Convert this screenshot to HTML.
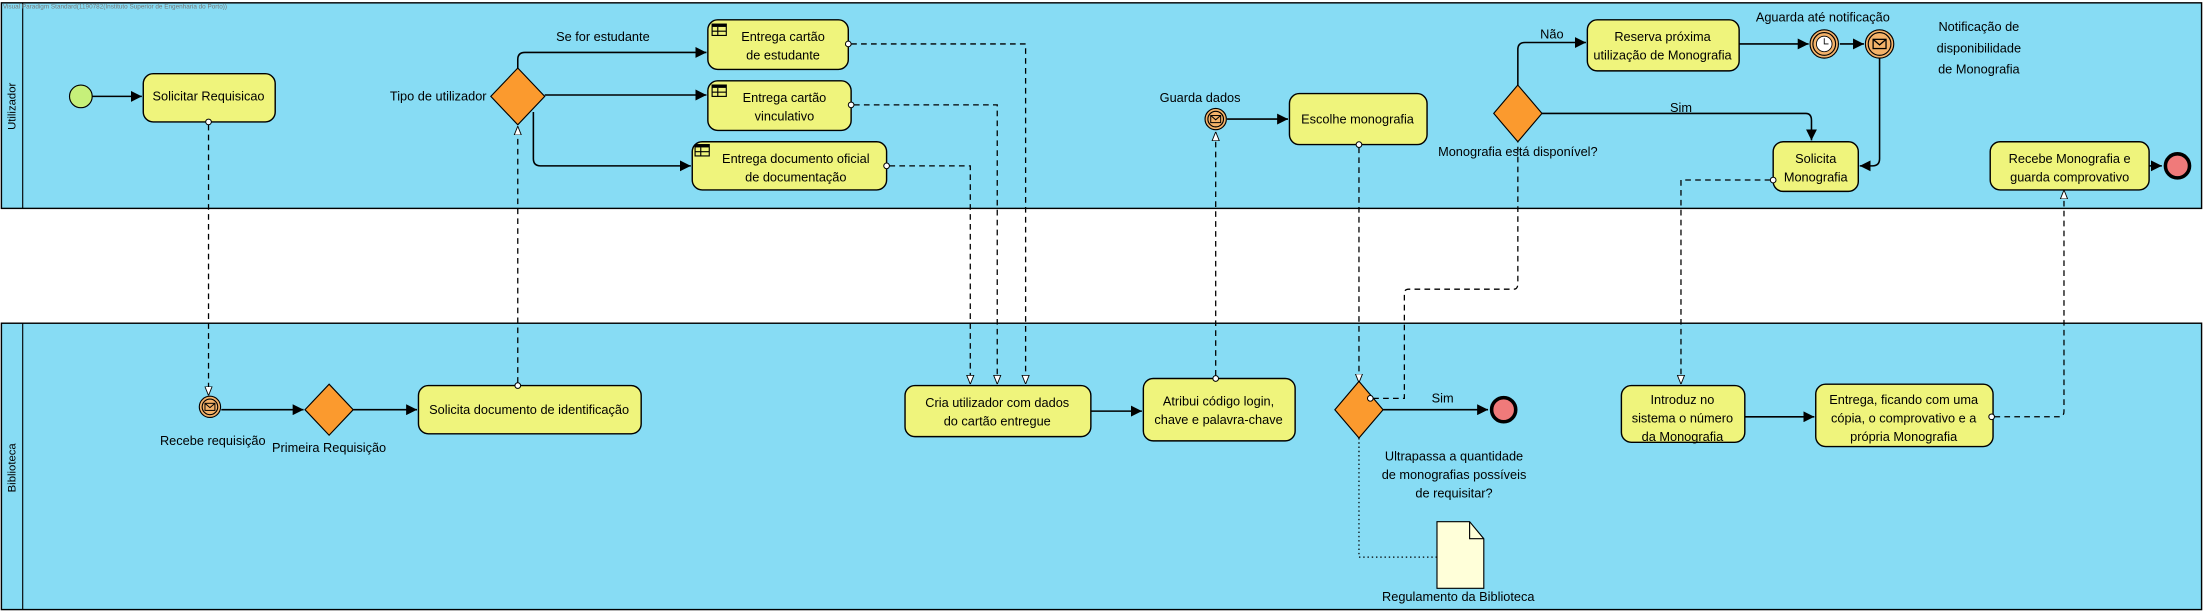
<!DOCTYPE html>
<html><head><meta charset="utf-8"><style>
html,body{margin:0;padding:0;background:#fff;}
svg{display:block;}
text{font-family:"Liberation Sans Narrow","Liberation Sans",sans-serif;font-size:9px;fill:#000;}
</style></head><body>
<svg width="2203" height="611" viewBox="0 0 1553 431" preserveAspectRatio="none" xmlns="http://www.w3.org/2000/svg">
<defs>
<marker id="a" viewBox="0 0 10 10" refX="10" refY="5" markerWidth="7" markerHeight="7" orient="auto"><path d="M0,0L10,5L0,10z" fill="#000"/></marker>
<marker id="o" viewBox="0 0 10 10" refX="10" refY="5" markerWidth="7" markerHeight="7" orient="auto"><path d="M0,1L10,5L0,9z" fill="#fff" stroke="#000" stroke-width="1"/></marker>
<g id="tbl"><rect x="0" y="0" width="10" height="8" fill="none" stroke="#000" stroke-width="0.8"/><rect x="0" y="0" width="10" height="2" fill="#000"/><line x1="0" y1="5" x2="10" y2="5" stroke="#000" stroke-width="0.8"/><line x1="4" y1="2" x2="4" y2="8" stroke="#000" stroke-width="0.8"/></g>
<g id="env"><rect x="-3.5" y="-2.5" width="7" height="5" fill="none" stroke="#000" stroke-width="0.7"/><path d="M-3.5,-2.5L0,0.5L3.5,-2.5" fill="none" stroke="#000" stroke-width="0.7"/></g>
</defs>
<!-- lanes -->
<rect x="1" y="2" width="1551" height="145" fill="#87dcf4" stroke="#000" stroke-width="1"/>
<line x1="16" y1="2" x2="16" y2="147" stroke="#000" stroke-width="0.8"/>
<text transform="translate(11,75) rotate(-90)" text-anchor="middle" style="font-family:'Liberation Sans',sans-serif;font-size:8px">Utilizador</text>
<text x="2" y="6" style="font-size:4.5px;fill:#777">Visual Paradigm Standard(1190782(Instituto Superior de Engenharia do Porto))</text>
<rect x="1" y="228" width="1551" height="202" fill="#87dcf4" stroke="#000" stroke-width="1"/>
<line x1="16" y1="228" x2="16" y2="430" stroke="#000" stroke-width="0.8"/>
<text transform="translate(11,330) rotate(-90)" text-anchor="middle" style="font-family:'Liberation Sans',sans-serif;font-size:8px">Biblioteca</text>

<g fill="none" stroke="#000" stroke-width="1.1">
<!-- sequence flows -->
<line x1="65" y1="68" x2="100" y2="68" marker-end="url(#a)"/>
<path d="M365,48V42Q365,37 370,37H498" marker-end="url(#a)"/>
<line x1="384" y1="67" x2="498" y2="67" marker-end="url(#a)"/>
<path d="M376,79V112Q376,117 381,117H487" marker-end="url(#a)"/>
<line x1="156" y1="289" x2="214" y2="289" marker-end="url(#a)"/>
<line x1="249" y1="289" x2="294" y2="289" marker-end="url(#a)"/>
<line x1="769" y1="290" x2="805" y2="290" marker-end="url(#a)"/>
<line x1="865" y1="84" x2="908" y2="84" marker-end="url(#a)"/>
<line x1="975" y1="289" x2="1049" y2="289" marker-end="url(#a)"/>
<path d="M1070,60V35Q1070,30 1075,30H1118" marker-end="url(#a)"/>
<line x1="1226" y1="31" x2="1275" y2="31" marker-end="url(#a)"/>
<line x1="1297" y1="31" x2="1314" y2="31" marker-end="url(#a)"/>
<path d="M1325,41V112Q1325,117 1320,117H1311" marker-end="url(#a)"/>
<path d="M1087,80H1273Q1277,80 1277,85V99" marker-end="url(#a)"/>
<line x1="1230" y1="294" x2="1279" y2="294" marker-end="url(#a)"/>
<line x1="1515" y1="117" x2="1524" y2="117" marker-end="url(#a)"/>
</g>
<g fill="none" stroke="#000" stroke-width="0.9" stroke-dasharray="4,3">
<line x1="147" y1="88" x2="147" y2="279" marker-end="url(#o)"/>
<line x1="365" y1="270" x2="365" y2="89" marker-end="url(#o)"/>
<path d="M600,31H723V271" marker-end="url(#o)"/>
<path d="M602,74H703V271" marker-end="url(#o)"/>
<path d="M627,117H684V271" marker-end="url(#o)"/>
<line x1="857" y1="265" x2="857" y2="93" marker-end="url(#o)"/>
<line x1="958" y1="104" x2="958" y2="270" marker-end="url(#o)"/>
<path d="M968,281H990V207Q990,204 993,204H1067Q1070,204 1070,200V100"/>
<path d="M1248,127H1185V271" marker-end="url(#o)"/>
<path d="M1406,294H1452Q1455,294 1455,290V134" marker-end="url(#o)"/>
</g>
<path d="M958,309V393H1013" fill="none" stroke="#000" stroke-width="0.9" stroke-dasharray="1,2"/>

<!-- tasks -->
<g fill="#eff47c" stroke="#000" stroke-width="1">
<rect x="101" y="52" width="93" height="34" rx="7"/>
<rect x="499" y="14" width="99" height="35" rx="7"/>
<rect x="499" y="57" width="101" height="35" rx="7"/>
<rect x="488" y="100" width="137" height="34" rx="7"/>
<rect x="295" y="272" width="157" height="34" rx="7"/>
<rect x="638" y="272" width="131" height="36" rx="7"/>
<rect x="806" y="267" width="107" height="44" rx="7"/>
<rect x="909" y="66" width="97" height="36" rx="7"/>
<rect x="1119" y="14" width="107" height="36" rx="7"/>
<rect x="1250" y="100" width="60" height="35" rx="7"/>
<rect x="1403" y="100" width="112" height="34" rx="7"/>
<rect x="1143" y="272" width="87" height="40" rx="7"/>
<rect x="1280" y="271" width="125" height="44" rx="7"/>
</g>
<use href="#tbl" x="502" y="17"/><use href="#tbl" x="502" y="60"/><use href="#tbl" x="490" y="102"/>
<!-- gateways -->
<g fill="#fb9a2e" stroke="#000" stroke-width="0.8">
<path d="M365,48L384,68L365,88L346,68z"/>
<path d="M232,271L249,289L232,307L215,289z"/>
<path d="M958,269L975,289L958,309L941,289z"/>
<path d="M1070,60L1087,80L1070,100L1053,80z"/>
</g>
<!-- events -->
<circle cx="57" cy="68" r="8" fill="#c6f07a" stroke="#000" stroke-width="0.8"/>
<g fill="#f4b36a" stroke="#000" stroke-width="0.8">
<circle cx="148" cy="287" r="7.5"/><circle cx="148" cy="287" r="5.5"/>
<circle cx="857" cy="84" r="7.5"/><circle cx="857" cy="84" r="5.5"/>
<circle cx="1286" cy="31" r="10"/><circle cx="1286" cy="31" r="8"/>
<circle cx="1325" cy="31" r="10"/><circle cx="1325" cy="31" r="8"/>
</g>
<circle cx="1286" cy="31" r="5.5" fill="#fff" stroke="#000" stroke-width="0.6"/>
<path d="M1286,27V31H1289" fill="none" stroke="#000" stroke-width="0.6"/>
<use href="#env" x="148" y="287"/><use href="#env" x="857" y="84"/>
<g transform="translate(1325,31) scale(1.3)"><use href="#env"/></g>
<g fill="#f07a7a" stroke="#000" stroke-width="2.5">
<circle cx="1060" cy="289" r="8.5"/><circle cx="1535" cy="117" r="8.5"/>
</g>
<!-- small circles -->
<g fill="#fff" stroke="#000" stroke-width="0.7">
<circle cx="147" cy="86" r="2"/><circle cx="598" cy="31" r="2"/><circle cx="600" cy="74" r="2"/><circle cx="625" cy="117" r="2"/>
<circle cx="365" cy="272" r="2"/><circle cx="857" cy="267" r="2"/><circle cx="958" cy="102" r="2"/><circle cx="966" cy="281" r="2"/>
<circle cx="1250" cy="127" r="2"/><circle cx="1404" cy="294" r="2"/>
</g>
<!-- document -->
<path d="M1013,368H1036L1046,380V415H1013z" fill="#ffffd9" stroke="#000" stroke-width="0.8"/>
<path d="M1036,368V380H1046" fill="none" stroke="#000" stroke-width="0.8"/>

<!-- texts -->
<g text-anchor="middle">
<text x="147" y="71">Solicitar Requisicao</text>
<text x="552" y="29">Entrega cartão</text><text x="552" y="42">de estudante</text>
<text x="553" y="72">Entrega cartão</text><text x="553" y="85">vinculativo</text>
<text x="561" y="115">Entrega documento oficial</text><text x="561" y="128">de documentação</text>
<text x="425" y="29">Se for estudante</text>
<text x="373" y="292">Solicita documento de identificação</text>
<text x="703" y="287">Cria utilizador com dados</text><text x="703" y="300">do cartão entregue</text>
<text x="859" y="286">Atribui código login,</text><text x="859" y="299">chave e palavra-chave</text>
<text x="846" y="72">Guarda dados</text>
<text x="957" y="87">Escolhe monografia</text>
<text x="1070" y="110">Monografia está disponível?</text>
<text x="1094" y="27">Não</text>
<text x="1172" y="29">Reserva próxima</text><text x="1172" y="42">utilização de Monografia</text>
<text x="1285" y="15">Aguarda até notificação</text>
<text x="1395" y="22">Notificação de</text><text x="1395" y="37">disponibilidade</text><text x="1395" y="52">de Monografia</text>
<text x="1185" y="79">Sim</text>
<text x="1280" y="115">Solicita</text><text x="1280" y="128">Monografia</text>
<text x="1459" y="115">Recebe Monografia e</text><text x="1459" y="128">guarda comprovativo</text>
<text x="150" y="314">Recebe requisição</text>
<text x="232" y="319">Primeira Requisição</text>
<text x="1017" y="284">Sim</text>
<text x="1025" y="325">Ultrapassa a quantidade</text><text x="1025" y="338">de monografias possíveis</text><text x="1025" y="351">de requisitar?</text>
<text x="1028" y="424">Regulamento da Biblioteca</text>
<text x="1186" y="285">Introduz no</text><text x="1186" y="298">sistema o número</text><text x="1186" y="311">da Monografia</text>
<text x="1342" y="285">Entrega, ficando com uma</text><text x="1342" y="298">cópia, o comprovativo e a</text><text x="1342" y="311">própria Monografia</text>
</g>
<text x="343" y="71" text-anchor="end">Tipo de utilizador</text>
</svg>
</body></html>
